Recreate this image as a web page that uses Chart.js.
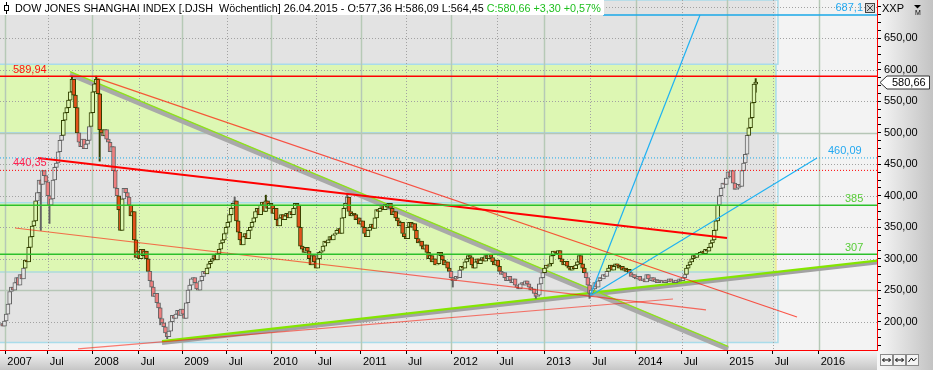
<!DOCTYPE html>
<html>
<head>
<meta charset="utf-8">
<script src="https://cdn.jsdelivr.net/npm/chart.js@4.4.0/dist/chart.umd.min.js"></script>
<style>
  html, body { margin: 0; padding: 0; background: #f3f3f3; }
  #wrap { width: 933px; height: 370px; }
</style>
</head>
<body>
<div id="wrap"><canvas id="chart" width="933" height="370"></canvas></div>
<script>
// weekly closes, DJ Shanghai index, Dec 2006 - Apr 2015 (bar index = week)
const firstOpen = 195;
const closes = [
  197,193,201,212,228,248,255,250,262,270,
  258,275,268,285,298,295,318,335,352,360,
  392,405,425,418,440,432,422,400,385,395,
  425,445,452,470,488,496,520,532,540,552,
  565,585,560,540,500,485,478,490,475,482,
  488,510,532,565,578,585,562,505,500,495,
  505,490,485,470,478,440,412,400,378,345,
  395,412,405,398,385,368,375,330,302,312,
  300,315,305,312,300,280,265,255,240,245,
  230,222,205,198,192,182,176,185,200,210,
  205,212,218,210,220,212,205,230,250,258,
  268,270,262,252,250,265,272,280,276,285,
  292,296,300,305,298,308,315,325,330,340,
  350,358,370,380,388,392,360,342,330,322,
  335,340,332,345,350,358,365,375,380,370,
  385,390,375,392,380,388,385,372,380,362,
  352,365,370,362,368,372,365,375,370,380,
  388,385,350,320,315,310,318,312,300,290,
  305,295,285,300,310,312,320,328,325,330,
  335,330,338,340,345,348,340,365,380,388,
  398,375,368,372,370,362,365,355,360,350,
  340,335,345,350,355,348,365,378,375,380,
  385,378,386,382,388,380,370,375,365,360,
  352,358,340,335,332,350,358,350,356,345,
  332,325,328,320,315,322,310,300,305,295,
  300,290,292,310,305,298,290,295,285,280,
  270,265,268,272,270,282,288,285,295,300,
  305,302,290,285,295,300,292,298,302,296,
  305,300,307,302,295,290,298,288,280,275,
  278,270,265,272,266,262,268,258,255,252,
  260,262,258,265,260,255,250,252,245,240,
  242,260,270,278,285,290,288,292,305,312,
  310,308,313,300,295,290,296,288,285,282,
  288,284,290,295,305,292,285,278,270,258,
  245,250,252,262,255,265,270,268,275,272,
  280,285,290,282,288,292,290,285,288,282,
  285,280,283,278,272,275,270,268,272,266,
  265,268,263,275,268,265,270,264,267,262,
  266,263,265,262,266,264,268,263,265,262,
  266,264,268,265,270,275,285,290,295,300,
  305,302,308,306,310,312,308,315,312,318,
  325,330,345,360,385,400,412,420,418,428,
  438,430,440,420,410,412,418,415,440,452,
  466,496,508,524,548,577.36,580.66
];

// visible wicks (bar index, low, high)
const wickIdx  = [23, 28, 41, 55, 57, 92, 96, 135, 153, 200, 261, 309, 340, 436];
const wickLow  = [345, 356, 565, 578, 455, 195, 173, 388, 375, 388, 255, 237, 237, 564.45];
const wickHigh = [425, 400, 590, 590, 562, 222, 182, 398, 401, 404, 270, 245, 258, 586.09];

// x axis: tick positions in bar units and their labels
const xTickPos = [2.48, 26.98, 52.74, 79.55, 104.74, 130.39, 156.15, 181.8, 207.97, 233.97,
                  260.14, 286.71, 313.86, 340.44, 366.84, 393.24, 419.58, 445.81, 472.39];
const xTickLabels = ['2007','Jul','2008','Jul','2009','Jul','2010','Jul','2011','Jul',
                     '2012','Jul','2013','Jul','2014','Jul','2015','Jul','2016'];
const X_MIN = -0.58, X_MAX = 506.07;
const Y_MIN = 155, Y_MAX = 711;

// shaded zones
const zoneLow  = [609, 500, 389, 279, 167];
const zoneHigh = [711, 609, 500, 389, 279];
const zoneEnd = 447.7;

// horizontal levels
const levelValues = [589.94, 440.35, 460.09, 385, 307, 687.1];
const levelStart  = [X_MIN, X_MIN, X_MIN, X_MIN, X_MIN, 347.8];

// trend lines (bar index, value)
const trendDownX = [39.86, 419.99], trendDownY = [593.3, 156.7], trendDownEdgeY = [597.3, 160.7];
const trendUpX = [93.01, 506.07], trendUpY = [166.2, 294.0], trendUpEdgeY = [169.2, 297.0];
const redLineX = [21.37, 419.41], redLineY = [460, 332.9];
const thinRedX = [55.46, 459.85], thinRedY = [587, 207.5];
const lowRedX = [8.09, 407.28], lowRedY = [348.8, 218.6];
const riseRedX = [44.48, 388.21], riseRedY = [156.7, 236];
const cyanSteepX = [340.27, 403.81], cyanSteepY = [240.8, 687.1];
const cyanFlatX = [340.27, 471.4], cyanFlatY = [240.8, 460.09];

const FONT = '"Liberation Sans", Arial, sans-serif';
const GREEN_ZONE = '#ddf7b3';
const GRAY_ZONE = '#e3e3e3';
const zoneFill = [GRAY_ZONE, GREEN_ZONE, GRAY_ZONE, GREEN_ZONE, GRAY_ZONE];

const fmt = v => String(v).replace('.', ',');
const fmt2 = v => v.toFixed(2).replace('.', ',');

const opens = closes.map((c, i) => i === 0 ? firstOpen : closes[i - 1]);
const inGreen = v => zoneLow.some((lo, k) => zoneFill[k] === GREEN_ZONE && v >= lo && v <= zoneHigh[k]);
const green = closes.map((c, i) => inGreen((c + opens[i]) / 2));
const outline = green.map(g => g ? '#324000' : '#646464');
const bodyFill = closes.map((c, i) => c >= opens[i]
  ? (green[i] ? GREEN_ZONE : GRAY_ZONE)
  : (green[i] ? '#e2521c' : '#ee7e7e'));

const pts = (xs, ys) => xs.map((v, k) => ({x: v, y: ys[k]}));
const lineDs = (data, color, width, order, dash) => ({
  type: 'line', data, borderColor: color, borderWidth: width, borderDash: dash || [],
  pointRadius: 0, fill: false, tension: 0, order
});

const bgPlugin = {
  id: 'zones',
  beforeDraw(chart) {
    const {ctx, chartArea: a, scales: {x, y}} = chart;
    ctx.save();
    ctx.fillStyle = '#f3f3f3';
    ctx.fillRect(0, 0, chart.width, chart.height);
    let g = ctx.createLinearGradient(a.right, 0, chart.width, 0);
    g.addColorStop(0, '#f7f7f7'); g.addColorStop(1, '#c3c3c3');
    ctx.fillStyle = g;
    ctx.fillRect(a.right, 0, chart.width - a.right, chart.height);
    g = ctx.createLinearGradient(0, a.bottom, 0, chart.height);
    g.addColorStop(0, '#f6f6f6'); g.addColorStop(1, '#c6c6c6');
    ctx.fillStyle = g;
    ctx.fillRect(0, a.bottom, a.right, chart.height - a.bottom);

    const xe = x.getPixelForValue(zoneEnd);
    zoneLow.forEach((lo, k) => {
      const yt = y.getPixelForValue(zoneHigh[k]), yb = y.getPixelForValue(lo);
      ctx.fillStyle = zoneFill[k];
      ctx.fillRect(a.left, yt, xe - a.left, yb - yt);
    });
    ctx.lineWidth = 1.5;
    zoneLow.forEach((lo, k) => {
      const yt = y.getPixelForValue(zoneHigh[k]), yb = y.getPixelForValue(lo);
      const isGray = zoneFill[k] === GRAY_ZONE;
      ctx.strokeStyle = isGray ? '#a9dcea' : (k === 3 ? '#f1e795' : '#a9dcea');
      ctx.beginPath();
      if (isGray) {
        ctx.moveTo(a.left, yt); ctx.lineTo(xe + 2, yt); ctx.lineTo(xe + 2, yb); ctx.lineTo(a.left, yb);
      } else {
        ctx.moveTo(xe, yt); ctx.lineTo(xe, yb); ctx.lineTo(a.left, yb);
      }
      ctx.stroke();
    });
    ctx.restore();
  },
  beforeDatasetsDraw(chart) {
    const {ctx, chartArea: a, scales: {x, y}} = chart;
    ctx.save();
    xTickPos.forEach((v, k) => {
      const jul = xTickLabels[k] === 'Jul';
      const px = Math.round(x.getPixelForValue(v)) + 0.5;
      ctx.strokeStyle = jul ? '#a2a2a2' : '#b6c9b6';
      ctx.lineWidth = jul ? 1 : 1.5;
      ctx.setLineDash(jul ? [1, 2] : []);
      ctx.beginPath(); ctx.moveTo(px, a.top); ctx.lineTo(px, a.bottom); ctx.stroke();
    });
    y.ticks.forEach(t => {
      if (Math.abs(t.value / 50 - Math.round(t.value / 50)) > 1e-6) return;
      const major = Math.abs(t.value / 250 - Math.round(t.value / 250)) < 1e-6;
      const py = Math.round(y.getPixelForValue(t.value)) + 0.5;
      ctx.strokeStyle = major ? '#b6c6b6' : '#a2a2a2';
      ctx.lineWidth = major ? 1.5 : 1;
      ctx.setLineDash(major ? [] : [1, 2]);
      ctx.beginPath(); ctx.moveTo(a.left, py); ctx.lineTo(a.right, py); ctx.stroke();
    });
    ctx.restore();
  }
};

const labelStyle = [
  {x: 13, align: 'left', dy: -6.5, color: '#ff1010'},
  {x: 13, align: 'left', dy: -7, color: '#ff2050'},
  {x: 828, align: 'left', dy: -7, color: '#22a8f0'},
  {x: 845, align: 'left', dy: -6, color: '#58cc38'},
  {x: 845, align: 'left', dy: -6, color: '#58cc38'},
  {x: 863, align: 'right', dy: -7, color: '#22a8f0'}
];

const overlayPlugin = {
  id: 'overlay',
  afterDraw(chart) {
    const {ctx, chartArea: a, scales: {y}} = chart;
    ctx.save();
    // level labels
    ctx.font = '11px ' + FONT;
    ctx.textBaseline = 'middle';
    levelValues.forEach((v, k) => {
      const s = labelStyle[k];
      ctx.fillStyle = s.color;
      ctx.textAlign = s.align;
      ctx.fillText(fmt(v), s.x, y.getPixelForValue(v) + s.dy);
    });

    // header
    const n = closes.length;
    const last = closes[n - 1], prev = closes[n - 2];
    const hi = wickHigh[wickHigh.length - 1], lo = wickLow[wickLow.length - 1];
    const chg = last - prev, pct = chg / prev * 100;
    ctx.fillStyle = '#ffffff';
    ctx.fillRect(0, 0, 604, 15);
    ctx.strokeStyle = '#000'; ctx.lineWidth = 1;
    ctx.beginPath(); ctx.moveTo(6.5, 2); ctx.lineTo(6.5, 14); ctx.stroke();
    ctx.fillStyle = '#fff';
    ctx.fillRect(4.5, 5.5, 4, 5); ctx.strokeRect(4.5, 5.5, 4, 5);
    ctx.font = '10.8px ' + FONT;
    ctx.textAlign = 'left'; ctx.textBaseline = 'alphabetic';
    const t1 = 'DOW JONES SHANGHAI INDEX [.DJSH  W\u00f6chentlich] 26.04.2015 - O:' + fmt2(prev) +
      ' H:' + fmt2(hi) + ' L:' + fmt2(lo);
    ctx.fillStyle = '#000';
    ctx.fillText(t1, 15, 12);
    const w1 = ctx.measureText(t1).width;
    ctx.fillStyle = '#1fbf1f';
    ctx.fillText(' C:' + fmt2(last) + ' +' + fmt2(chg) + ' +' + fmt2(pct) + '%', 15 + w1, 12);

    // last price tag
    const py = Math.round(y.getPixelForValue(last)) + 0.5;
    ctx.beginPath();
    ctx.moveTo(880, py); ctx.lineTo(887, py - 6.5); ctx.lineTo(929.5, py - 6.5);
    ctx.lineTo(929.5, py + 6.5); ctx.lineTo(887, py + 6.5); ctx.closePath();
    ctx.fillStyle = '#fff'; ctx.fill();
    ctx.strokeStyle = '#333'; ctx.stroke();
    ctx.fillStyle = '#000'; ctx.font = '11px ' + FONT; ctx.textBaseline = 'middle';
    ctx.fillText(fmt2(last), 892, py);

    // top right widgets
    ctx.fillText('XXP', 882, 9);
    ctx.beginPath(); ctx.moveTo(914, 5); ctx.lineTo(921, 5); ctx.lineTo(917.5, 8.5); ctx.closePath(); ctx.fill();
    ctx.font = '7px ' + FONT; ctx.fillText('M', 915, 13);
    ctx.fillStyle = '#d4d4d4'; ctx.fillRect(865.5, 3.5, 9, 9);
    ctx.strokeStyle = '#444'; ctx.strokeRect(865.5, 3.5, 9, 9);
    ctx.beginPath(); ctx.moveTo(867, 5); ctx.lineTo(873, 11); ctx.moveTo(873, 5); ctx.lineTo(867, 11); ctx.stroke();

    // bottom right buttons
    [880.5, 893.5, 906.5].forEach((bx, k) => {
      ctx.fillStyle = '#f4f4f4'; ctx.fillRect(bx, 354.5, 12, 11);
      ctx.strokeStyle = '#8a8a8a'; ctx.strokeRect(bx, 354.5, 12, 11);
      ctx.strokeStyle = '#000';
      ctx.beginPath();
      if (k < 2) {
        ctx.moveTo(bx + 2, 360); ctx.lineTo(bx + 10, 360);
        ctx.moveTo(bx + 4, 358); ctx.lineTo(bx + 2, 360); ctx.lineTo(bx + 4, 362);
        ctx.moveTo(bx + 8, 358); ctx.lineTo(bx + 10, 360); ctx.lineTo(bx + 8, 362);
      } else {
        ctx.moveTo(bx + 2, 362); ctx.lineTo(bx + 5, 358); ctx.lineTo(bx + 7, 361); ctx.lineTo(bx + 10, 358);
      }
      ctx.stroke();
    });
    ctx.restore();
  }
};

const levelColors = ['#ff0000', '#ff0000', '#1aa8e8', '#2cc02c', '#2cc02c', '#1aa8e8'];
const levelWidths = [1.5, 1, 1, 1.5, 1.5, 1.5];
const levelDash = [[], [1, 2], [1, 2], [], [], []];

const datasets = [
  // thin lines on top
  ...levelValues.map((v, k) => lineDs(pts([levelStart[k], X_MAX], [v, v]), levelColors[k], levelWidths[k], 0, levelDash[k])),
  lineDs(pts(redLineX, redLineY), '#ff0000', 1.8, 0),
  lineDs(pts(thinRedX, thinRedY), 'rgba(255,20,0,0.7)', 1.2, 0),
  lineDs(pts(lowRedX, lowRedY), 'rgba(255,20,0,0.6)', 1.2, 0),
  lineDs(pts(riseRedX, riseRedY), 'rgba(255,20,0,0.55)', 1.2, 0),
  lineDs(pts(cyanSteepX, cyanSteepY), '#1fb2f2', 1.2, 0),
  lineDs(pts(cyanFlatX, cyanFlatY), '#1fb2f2', 1.2, 0),
  // candles
  {
    type: 'bar', order: 1, grouped: false, barThickness: 4,
    data: closes.map((c, i) => ({x: i, y: [opens[i], c]})),
    backgroundColor: bodyFill, borderColor: outline, borderWidth: 1, borderSkipped: false
  },
  {
    type: 'bar', order: 2, grouped: false, barThickness: 1.3,
    data: wickIdx.map((i, k) => ({x: i, y: [wickLow[k], wickHigh[k]]})),
    backgroundColor: wickIdx.map(i => outline[i]), borderWidth: 0
  },
  // thick trend bands
  lineDs(pts(trendDownX, trendDownEdgeY), '#8ee21a', 1.5, 3),
  lineDs(pts(trendDownX, trendDownY), '#a9a9a9', 5, 4),
  lineDs(pts(trendUpX, trendUpEdgeY), '#84e600', 2.2, 3),
  lineDs(pts(trendUpX, trendUpY), '#a2a2a2', 4, 4)
];

new Chart(document.getElementById('chart'), {
  type: 'bar',
  data: {datasets},
  options: {
    responsive: false,
    animation: false,
    devicePixelRatio: 1,
    events: [],
    layout: {padding: 0},
    plugins: {legend: {display: false}, tooltip: {enabled: false}},
    font: {family: FONT},
    scales: {
      x: {
        type: 'linear', min: X_MIN, max: X_MAX, offset: false,
        afterBuildTicks: s => { s.ticks = xTickPos.map(v => ({value: v})); },
        afterFit: s => { s.height = 20; s.paddingLeft = 0; s.paddingRight = 0; },
        ticks: {
          autoSkip: false, maxRotation: 0, align: 'start', labelOffset: 2, padding: 1,
          color: '#000', font: {family: FONT, size: 11},
          callback: (v, i) => xTickLabels[i]
        },
        grid: {drawOnChartArea: false, offset: false, tickLength: 4, tickColor: '#000'},
        border: {color: '#ff0000', width: 1}
      },
      y: {
        position: 'right', min: Y_MIN, max: Y_MAX,
        afterFit: s => { s.width = 56; s.paddingTop = 0; s.paddingBottom = 0; },
        ticks: {
          stepSize: 12.5, includeBounds: false, autoSkip: false, padding: 3,
          color: '#000', font: {family: FONT, size: 11},
          callback: v => (Math.abs(v / 50 - Math.round(v / 50)) < 1e-6 && v <= 650) ? fmt2(v) : ''
        },
        grid: {drawOnChartArea: false, tickLength: 4, tickColor: '#000'},
        border: {color: '#ff0000', width: 1}
      }
    }
  },
  plugins: [bgPlugin, overlayPlugin]
});
</script>
</body>
</html>
